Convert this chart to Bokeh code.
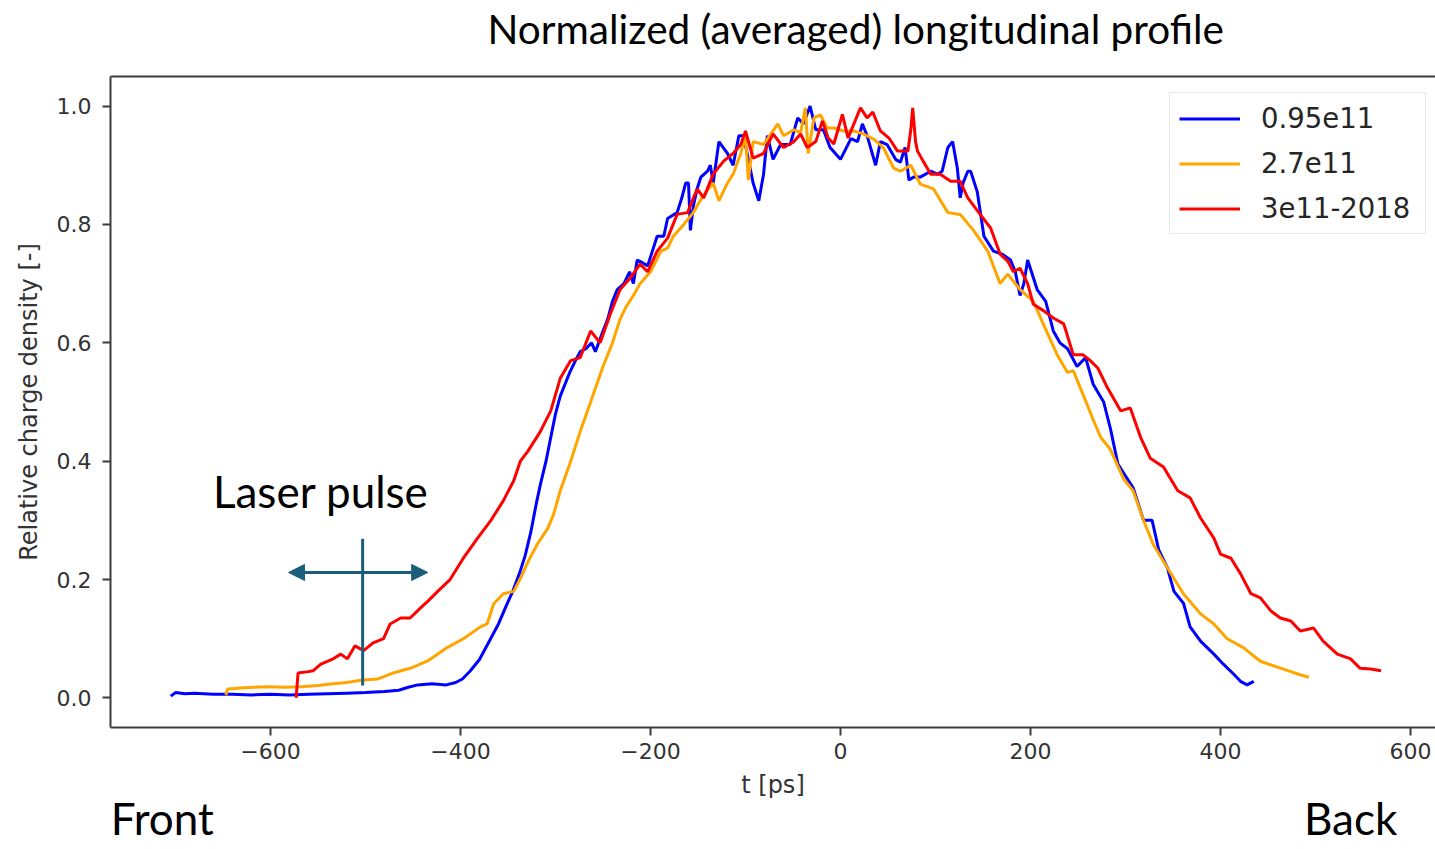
from bokeh.plotting import figure
from bokeh.models import (Range1d, FixedTicker, Legend, LegendItem, Label,
                          Arrow, NormalHead, PrintfTickFormatter, LinearAxis)
from bokeh.embed import file_html
from bokeh.resources import INLINE

# ---------------- data ----------------
blue_t = [-705, -700, -690, -680, -660, -640, -620, -600, -580, -560,
          -540, -520, -500, -480, -465, -455, -445, -430, -415, -405,
          -398, -390, -380, -370, -360, -352, -345, -338, -332, -326,
          -320, -316, -310, -305, -300, -295, -290, -285, -279, -274,
          -268, -262, -258, -250, -245, -240, -235, -228, -222, -218,
          -214, -208, -203, -198, -193, -186, -182, -177, -172, -167,
          -163, -160, -158, -155, -151, -147, -140, -137, -134, -128,
          -119, -113, -107, -102, -97, -92, -86, -81, -77, -71,
          -63, -53, -45, -39, -32, -26, -18, -11, 0, 11,
          18, 23, 28, 37, 42, 49, 58, 63, 68, 72,
          77, 84, 95, 102, 107, 113, 118, 123, 126, 129,
          134, 137, 144, 151, 161, 170, 179, 184, 189, 193,
          197, 207, 216, 224, 231, 239, 249, 258, 266, 277,
          284, 292, 298, 308, 319, 328, 335, 344, 351, 361,
          368, 379, 393, 403, 414, 421, 428, 435]
blue_y = [0.003, 0.009, 0.007, 0.008, 0.006, 0.006, 0.005, 0.006, 0.005, 0.006,
          0.007, 0.008, 0.009, 0.011, 0.013, 0.018, 0.022, 0.024, 0.022, 0.026,
          0.032, 0.045, 0.065, 0.095, 0.125, 0.155, 0.180, 0.210, 0.240, 0.280,
          0.330, 0.360, 0.400, 0.440, 0.480, 0.510, 0.530, 0.550, 0.570, 0.585,
          0.590, 0.600, 0.585, 0.620, 0.640, 0.670, 0.690, 0.700, 0.720, 0.700,
          0.740, 0.735, 0.730, 0.755, 0.780, 0.780, 0.810, 0.815, 0.820, 0.845,
          0.870, 0.870, 0.790, 0.830, 0.860, 0.880, 0.890, 0.900, 0.870, 0.940,
          0.920, 0.900, 0.950, 0.950, 0.910, 0.870, 0.840, 0.885, 0.950, 0.910,
          0.935, 0.935, 0.980, 0.970, 1.000, 0.960, 0.960, 0.930, 0.910, 0.945,
          0.940, 0.970, 0.950, 0.900, 0.940, 0.935, 0.910, 0.905, 0.930, 0.875,
          0.880, 0.880, 0.890, 0.885, 0.890, 0.930, 0.940, 0.895, 0.845, 0.870,
          0.890, 0.890, 0.855, 0.780, 0.755, 0.750, 0.740, 0.720, 0.680, 0.700,
          0.740, 0.690, 0.670, 0.620, 0.600, 0.590, 0.560, 0.575, 0.530, 0.500,
          0.456, 0.395, 0.380, 0.355, 0.300, 0.300, 0.250, 0.220, 0.180, 0.160,
          0.120, 0.096, 0.074, 0.057, 0.040, 0.028, 0.022, 0.028]

orange_t = [-647, -645, -628, -603, -585, -568, -550, -534, -520, -505,
            -487, -471, -453, -435, -414, -397, -379, -372, -365, -355,
            -344, -336, -329, -319, -308, -302, -295, -284, -274, -263,
            -250, -240, -232, -226, -218, -211, -200, -189, -182, -176,
            -165, -155, -144, -134, -128, -119, -113, -105, -100, -97,
            -92, -81, -66, -60, -49, -42, -37, -34, -28, -21,
            -14, -7, 3, 14, 24, 35, 45, 56, 63, 74,
            84, 98, 113, 126, 140, 155, 168, 176, 189, 203,
            214, 228, 239, 245, 256, 266, 274, 284, 298, 308,
            319, 329, 344, 361, 379, 393, 407, 424, 442, 456,
            471, 482, 493]
orange_y = [0.005, 0.015, 0.017, 0.019, 0.018, 0.019, 0.021, 0.024, 0.026, 0.030,
            0.032, 0.042, 0.050, 0.062, 0.085, 0.100, 0.120, 0.125, 0.159, 0.176,
            0.180, 0.205, 0.230, 0.260, 0.287, 0.310, 0.350, 0.400, 0.450, 0.500,
            0.560, 0.600, 0.640, 0.660, 0.680, 0.700, 0.720, 0.755, 0.760, 0.780,
            0.800, 0.820, 0.850, 0.870, 0.840, 0.870, 0.885, 0.920, 0.950, 0.875,
            0.940, 0.935, 0.970, 0.950, 0.960, 0.955, 0.997, 0.920, 0.980, 0.985,
            0.963, 0.963, 0.958, 0.958, 0.953, 0.944, 0.930, 0.895, 0.890, 0.900,
            0.868, 0.860, 0.820, 0.817, 0.790, 0.755, 0.700, 0.716, 0.690, 0.670,
            0.630, 0.580, 0.550, 0.553, 0.510, 0.470, 0.440, 0.420, 0.370, 0.350,
            0.300, 0.260, 0.220, 0.176, 0.142, 0.125, 0.100, 0.085, 0.062, 0.054,
            0.046, 0.040, 0.035]

red_t = [-573, -571, -562, -555, -547, -534, -526, -519, -511, -502,
         -492, -481, -474, -463, -453, -442, -434, -424, -411, -397,
         -382, -368, -355, -344, -337, -329, -316, -305, -295, -284,
         -274, -263, -253, -242, -232, -221, -211, -203, -193, -182,
         -172, -161, -151, -144, -134, -123, -113, -105, -100, -92,
         -81, -71, -60, -49, -42, -35, -26, -19, -13, -7,
         2, 8, 21, 28, 34, 42, 51, 60, 71, 74,
         76, 79, 81, 87, 95, 105, 116, 126, 134, 147,
         158, 168, 176, 182, 189, 197, 203, 214, 224, 235,
         245, 255, 263, 271, 281, 295, 305, 316, 326, 340,
         355, 368, 379, 393, 400, 411, 421, 432, 442, 453,
         463, 474, 484, 498, 508, 523, 537, 547, 558, 569]
red_y = [0.000, 0.042, 0.044, 0.046, 0.057, 0.066, 0.074, 0.066, 0.088, 0.080,
         0.093, 0.100, 0.125, 0.135, 0.135, 0.152, 0.164, 0.180, 0.200, 0.236,
         0.270, 0.300, 0.333, 0.367, 0.400, 0.417, 0.450, 0.485, 0.540, 0.570,
         0.575, 0.620, 0.600, 0.650, 0.690, 0.710, 0.733, 0.720, 0.755, 0.777,
         0.817, 0.820, 0.860, 0.845, 0.885, 0.907, 0.920, 0.935, 0.958, 0.912,
         0.920, 0.953, 0.930, 0.940, 0.953, 0.930, 0.940, 0.975, 0.946, 0.936,
         0.986, 0.946, 0.997, 0.980, 0.990, 0.958, 0.946, 0.924, 0.924, 0.960,
         0.997, 0.940, 0.924, 0.907, 0.885, 0.885, 0.873, 0.873, 0.845, 0.817,
         0.794, 0.750, 0.738, 0.720, 0.726, 0.700, 0.665, 0.654, 0.642, 0.632,
         0.580, 0.580, 0.570, 0.557, 0.524, 0.485, 0.490, 0.440, 0.405, 0.390,
         0.350, 0.338, 0.304, 0.270, 0.243, 0.236, 0.210, 0.176, 0.169, 0.147,
         0.135, 0.130, 0.113, 0.118, 0.096, 0.074, 0.066, 0.050, 0.049, 0.046]

series_names = ["0.95e11", "2.7e11", "3e11-2018"]
series_colors = ["#0000ff", "#ffa500", "#ff0000"]

x_ticks = [-600, -400, -200, 0, 200, 400, 600]
x_tick_labels = ["\u2212600", "\u2212400", "\u2212200", "0", "200", "400", "600"]
y_ticks = [0.0, 0.2, 0.4, 0.6, 0.8, 1.0]

title_text = "Normalized (averaged) longitudinal profile"
x_label = "t [ps]"
y_label = "Relative charge density [-]"

# title is centred over this t position (the title sits right of the frame centre)
title_tick = [16]
# side captions under the axis (positions along t)
side_ticks = [-714, 537]
side_labels = ["Front", "Back"]

# annotation (laser pulse marker) in data coordinates
laser_t = -503.0
laser_y0, laser_y1 = 0.021, 0.269
arrow_t0, arrow_t1, arrow_y = -581.0, -434.5, 0.212

assert len(blue_t) == len(blue_y)
assert len(orange_t) == len(orange_y)
assert len(red_t) == len(red_y)

# ---------------- figure ----------------
p = figure(width=1435, height=849, output_backend="svg", toolbar_location=None,
           x_range=Range1d(-768.4, 626.3), y_range=Range1d(-0.05, 1.05),
           min_border_left=110, min_border_right=0, min_border_top=76,
           min_border_bottom=122, title=None)
p.background_fill_color = "white"
p.border_fill_color = "white"
p.outline_line_color = None
p.xgrid.visible = False
p.ygrid.visible = False

spine = "#3c3c3c"
tick_font = "DejaVu Sans"
ann_font = "Lato"
for ax in (p.xaxis[0], p.yaxis[0]):
    ax.axis_line_color = spine
    ax.axis_line_width = 2
    ax.major_tick_line_color = spine
    ax.major_tick_line_width = 2
    ax.major_tick_out = 8
    ax.major_tick_in = 0
    ax.minor_tick_out = 0
    ax.minor_tick_in = 0
    ax.major_label_text_font = tick_font
    ax.major_label_text_font_size = "22px"
    ax.major_label_text_color = "#333333"
    ax.axis_label_text_font = tick_font
    ax.axis_label_text_font_size = "24px"
    ax.axis_label_text_font_style = "normal"
    ax.axis_label_text_color = "#333333"

p.xaxis.ticker = FixedTicker(ticks=x_ticks)
p.xaxis.major_label_overrides = dict(zip(x_ticks, x_tick_labels))
p.xaxis.major_label_standoff = 7
p.xaxis.axis_label = x_label
p.xaxis.axis_label_standoff = 9
p.yaxis.ticker = FixedTicker(ticks=y_ticks)
p.yaxis.formatter = PrintfTickFormatter(format="%.1f")
p.yaxis.major_label_standoff = 11
p.yaxis.axis_label = y_label
p.yaxis.axis_label_standoff = 11

# top spine + title: an axis above the frame whose single label is the title
top_axis = LinearAxis(ticker=FixedTicker(ticks=title_tick),
                      major_label_overrides={title_tick[0]: title_text})
top_axis.axis_line_color = spine
top_axis.axis_line_width = 2
top_axis.major_tick_line_color = None
top_axis.minor_tick_line_color = None
top_axis.major_tick_out = 0
top_axis.major_tick_in = 0
top_axis.minor_tick_out = 0
top_axis.minor_tick_in = 0
top_axis.major_label_text_font = ann_font
top_axis.major_label_text_font_size = "40.5px"
top_axis.major_label_text_color = "black"
top_axis.major_label_standoff = 24
p.add_layout(top_axis, "above")

# second (caption-only) axis under the main one for "Front" / "Back"
side_axis = LinearAxis(ticker=FixedTicker(ticks=side_ticks),
                       major_label_overrides=dict(zip(side_ticks, side_labels)))
side_axis.axis_line_color = None
side_axis.major_tick_line_color = None
side_axis.minor_tick_line_color = None
side_axis.major_tick_out = 0
side_axis.major_tick_in = 0
side_axis.minor_tick_out = 0
side_axis.minor_tick_in = 0
side_axis.major_label_text_font = ann_font
side_axis.major_label_text_font_size = "44px"
side_axis.major_label_text_color = "black"
side_axis.major_label_standoff = -10
p.add_layout(side_axis, "below")

r_blue = p.line(blue_t, blue_y, line_color=series_colors[0], line_width=3)
r_orange = p.line(orange_t, orange_y, line_color=series_colors[1], line_width=3)
r_red = p.line(red_t, red_y, line_color=series_colors[2], line_width=3)

teal = "#1b5e7b"
p.segment(x0=[laser_t], y0=[laser_y0], x1=[laser_t], y1=[laser_y1],
          line_color=teal, line_width=3)
p.add_layout(Arrow(start=NormalHead(size=16, fill_color=teal, line_color=teal, line_width=1),
                   end=NormalHead(size=16, fill_color=teal, line_color=teal, line_width=1),
                   x_start=arrow_t0, y_start=arrow_y, x_end=arrow_t1, y_end=arrow_y,
                   line_color=teal, line_width=3))

legend = Legend(items=[LegendItem(label=series_names[0], renderers=[r_blue]),
                       LegendItem(label=series_names[1], renderers=[r_orange]),
                       LegendItem(label=series_names[2], renderers=[r_red])],
                location=(1059, 493))
legend.glyph_width = 61
legend.glyph_height = 27
legend.label_height = 27
legend.label_width = 155
legend.label_standoff = 21
legend.spacing = 13
legend.padding = 9
legend.margin = 0
legend.label_text_font = tick_font
legend.label_text_font_size = "27.5px"
legend.label_text_color = "#262626"
legend.border_line_color = "#d0d0d0"
legend.border_line_width = 1.5
legend.background_fill_color = "white"
legend.background_fill_alpha = 0.8
p.add_layout(legend, "center")

p.add_layout(Label(x=-547, y=0.35, text="Laser pulse", text_align="center",
                   text_baseline="middle", text_font=ann_font, text_font_size="44px",
                   text_color="black"))

open("out.html", "w").write(file_html(p, INLINE))
